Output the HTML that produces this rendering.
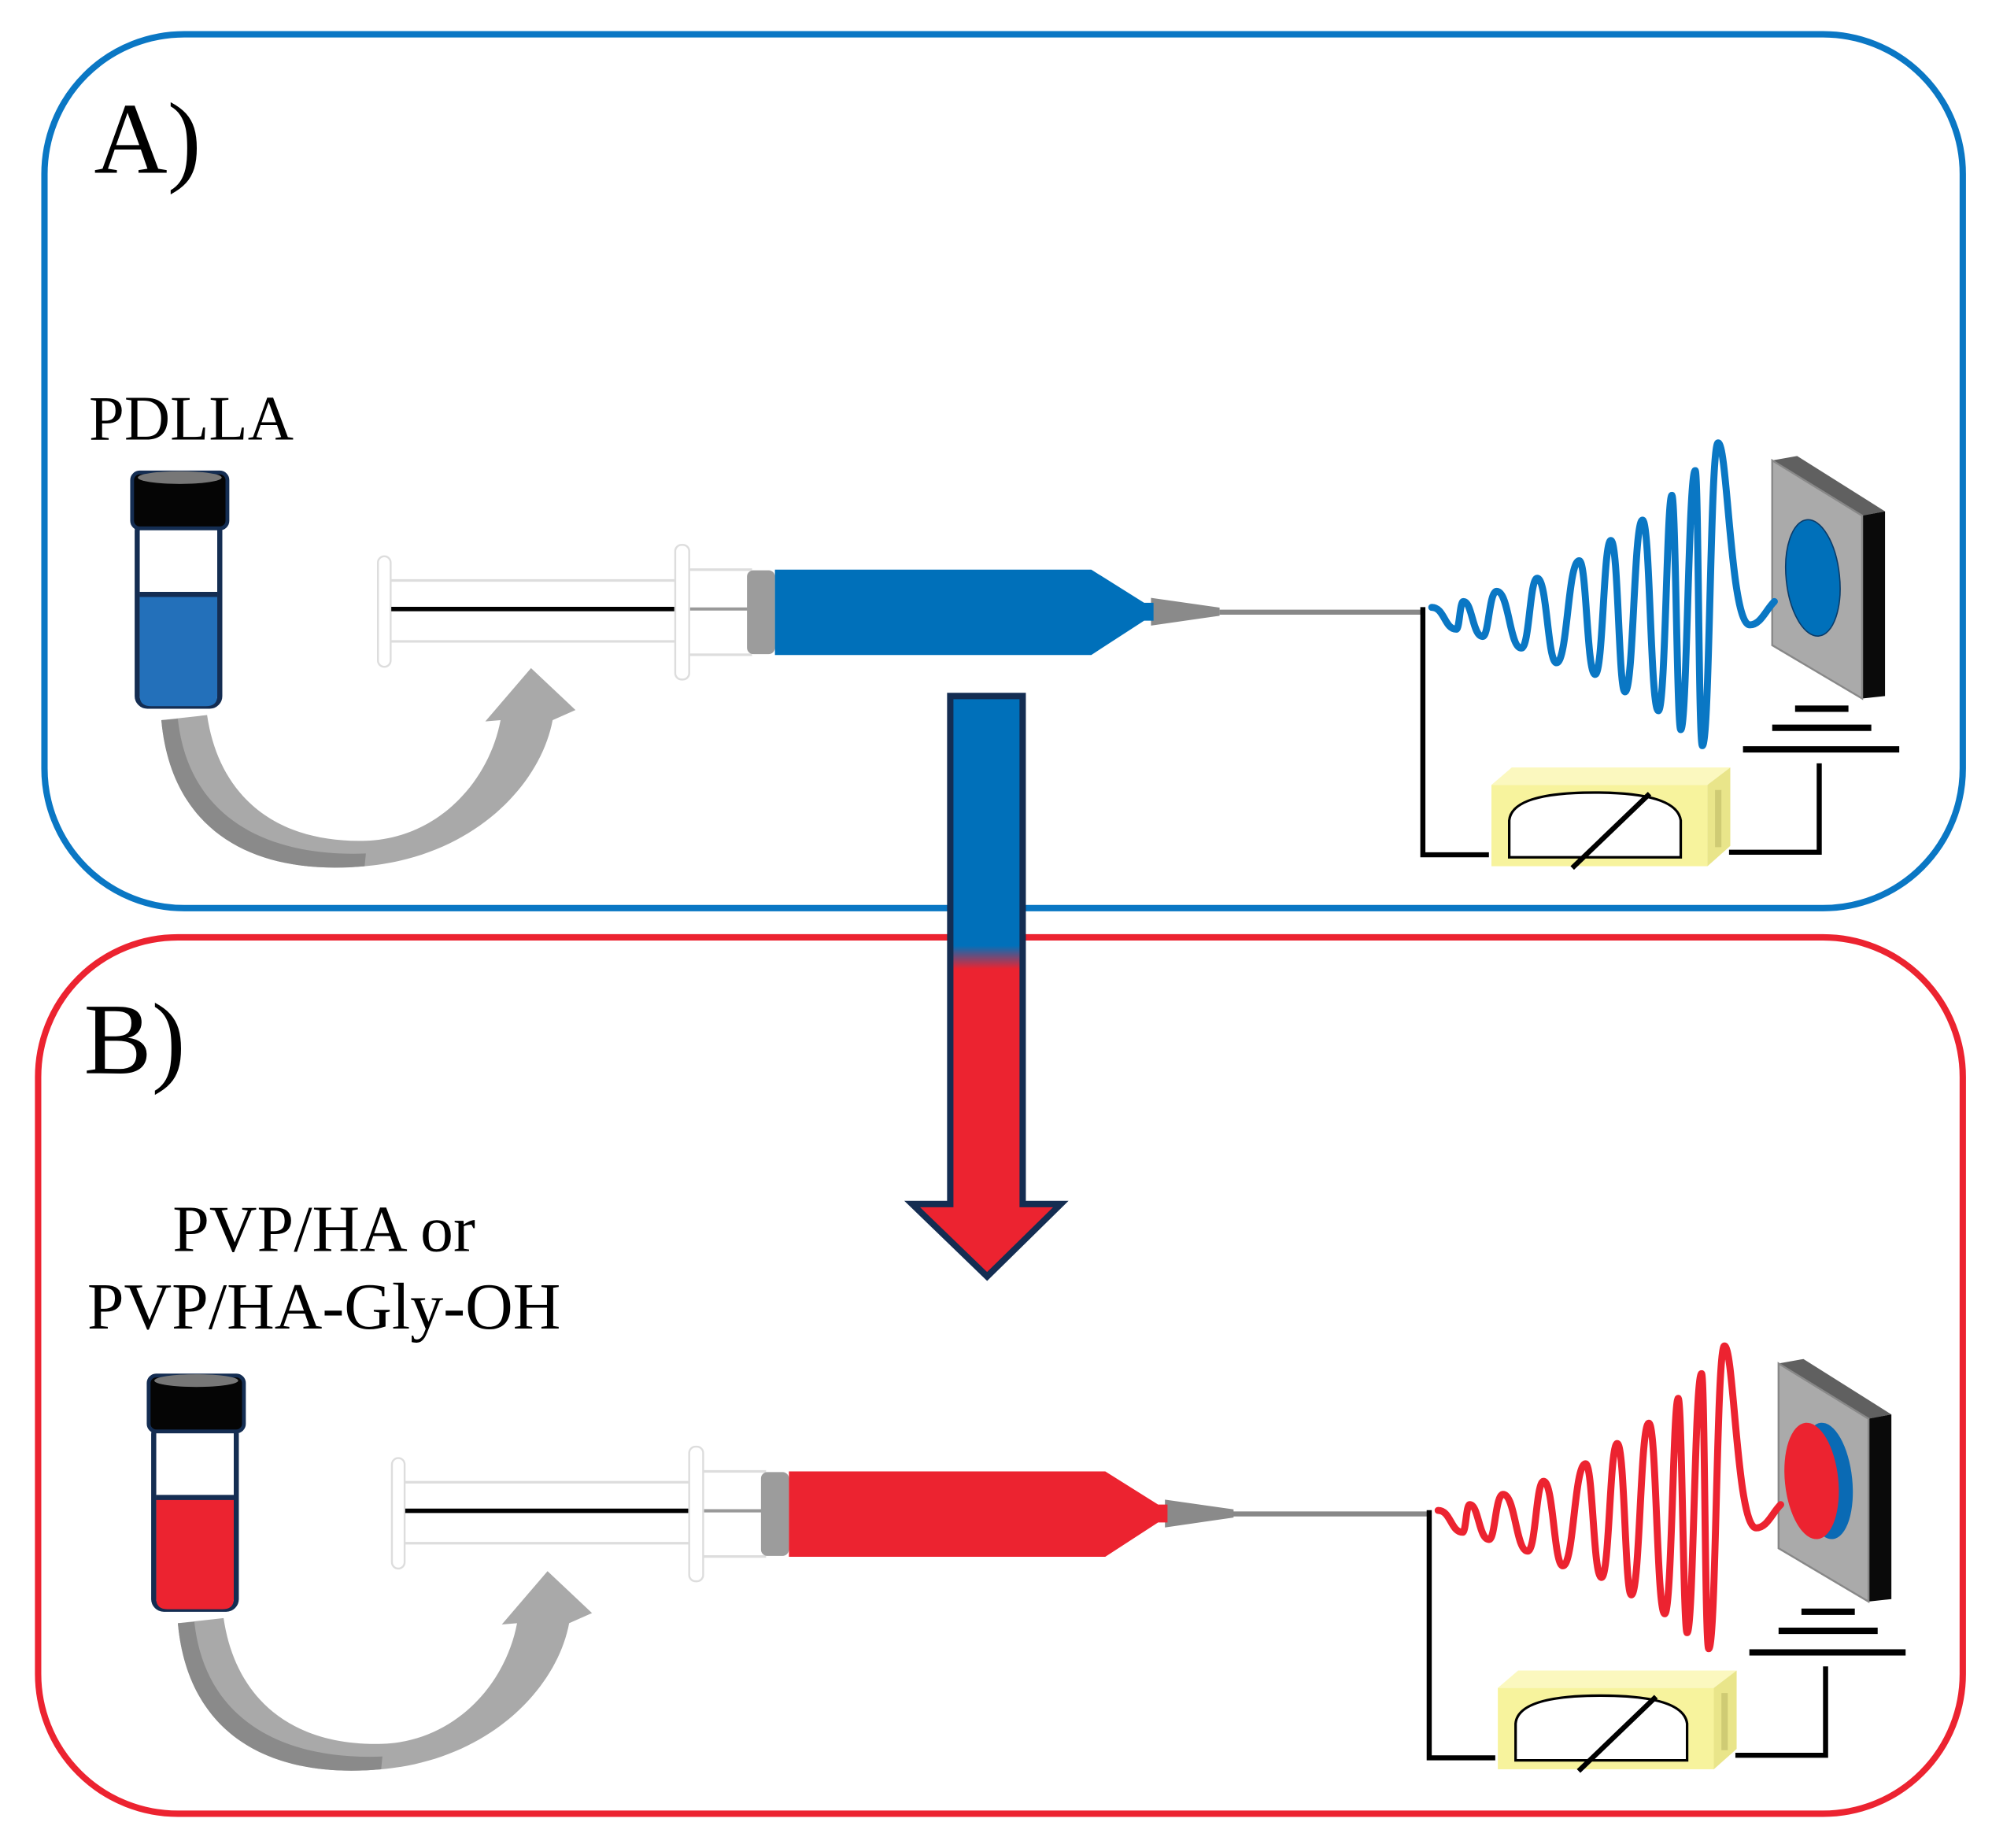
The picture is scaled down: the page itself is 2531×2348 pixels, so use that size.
<!DOCTYPE html>
<html><head><meta charset="utf-8"><style>html,body{margin:0;padding:0;background:#fff}svg{display:block}</style></head>
<body>
<svg width="2531" height="2348" viewBox="0 0 1568 1455" preserveAspectRatio="none" xmlns="http://www.w3.org/2000/svg">
<defs>
<linearGradient id="ag" x1="0" y1="548" x2="0" y2="1005" gradientUnits="userSpaceOnUse">
<stop offset="0" stop-color="#0070ba"/><stop offset="0.43" stop-color="#0070ba"/><stop offset="0.47" stop-color="#ec2330"/><stop offset="1" stop-color="#ec2330"/>
</linearGradient>
<g id="arrowc">
<path d="M127,567 C135,655 200,690 287,682 C370,675 425,620 435,567 L453,559 L418,526 L382,568 L394,567 C385,615 345,660 288,662 C215,664 172,625 163,563 Z" fill="#a9a9a9"/>
<path d="M127,567 C135,655 200,690 287,682 L288,672 C205,675 148,640 140,566 Z" fill="#8a8a8a"/>
</g>
<g id="meter">
<path d="M1174,618 L1190,604.3 L1362,604.3 L1344,618 Z" fill="#fbf8bf"/>
<path d="M1344,618 L1362,604.3 L1362,666 L1344,682 Z" fill="#e9e58a"/>
<rect x="1350" y="622" width="5" height="45" fill="#cfcb74"/>
<rect x="1174" y="618" width="170" height="64" fill="#f7f39d"/>
<path d="M1188,675 L1188,646 Q1190,624 1255,624 Q1320,624 1323,646 L1323,675 Z" fill="#fff" stroke="#000" stroke-width="2"/>
<line x1="1237.6" y1="683.4" x2="1298.5" y2="624.9" stroke="#000" stroke-width="4"/>
<polyline points="1120,478 1120,673 1172,673" fill="none" stroke="#000" stroke-width="4"/>
<polyline points="1361,671 1432,671 1432,601" fill="none" stroke="#000" stroke-width="4"/>
<line x1="1413" y1="558" x2="1455" y2="558" stroke="#000" stroke-width="5"/>
<line x1="1395" y1="573" x2="1473" y2="573" stroke="#000" stroke-width="5"/>
<line x1="1372" y1="590" x2="1495" y2="590" stroke="#000" stroke-width="5"/>
<path d="M1395,362.5 L1414.6,359 L1483.8,402.6 L1465.8,406 Z" fill="#606060"/>
<path d="M1465.8,406 L1483.8,402.6 L1483.8,548 L1465.8,550 Z" fill="#0a0a0a"/>
<path d="M1395,362.5 L1465.8,406 L1465.8,550 L1395,508 Z" fill="#aaa" stroke="#888" stroke-width="1.5"/>
</g>
<path id="wave" d="M1127,478.2 C1137,478.2 1137,495.4 1146.3,495.4 C1149,495.4 1149,473.6 1151.9,473.6 C1159,473.6 1159,501.1 1167.1,501.1 C1172,501.1 1172,465.6 1178.1,465.6 C1188,465.6 1188,510.3 1197.5,510.3 C1204,510.3 1204,455.3 1210,455.3 C1218,455.3 1218,521.8 1225.2,521.8 C1234,521.8 1234,441.5 1243.1,441.5 C1249,441.5 1249,531 1255.6,531 C1262,531 1262,425.5 1268,425.5 C1274,425.5 1274,544.7 1279.1,544.7 C1286,544.7 1286,409.5 1292.9,409.5 C1299,409.5 1299,559.6 1305.4,559.6 C1311,559.6 1312,390 1316,390 C1319,390 1320,574.5 1323,574.5 C1328,574.5 1329,370.5 1334.4,370.5 C1337,370.5 1337,587.1 1340,587.1 C1346,587.1 1346,348.7 1352.4,348.7 C1360,348.7 1362,492 1377.3,492 C1386,492 1390,480 1396.7,473.6" fill="none" stroke-width="5.5" stroke-linecap="round"/>
<g id="syrbase">
<rect x="297.5" y="438" width="10" height="87" rx="5" fill="#fff" stroke="#ddd" stroke-width="1.5"/>
<line x1="308" y1="457" x2="533" y2="457" stroke="#ddd" stroke-width="2"/>
<line x1="308" y1="505" x2="533" y2="505" stroke="#ddd" stroke-width="2"/>
<line x1="308" y1="479.5" x2="531" y2="479.5" stroke="#000" stroke-width="3.5"/>
<line x1="543" y1="479.5" x2="590" y2="479.5" stroke="#999" stroke-width="2.5"/>
<rect x="531.5" y="429" width="11" height="106" rx="5" fill="#fff" stroke="#ddd" stroke-width="1.5"/>
<line x1="543" y1="448.5" x2="592" y2="448.5" stroke="#ddd" stroke-width="2"/>
<line x1="543" y1="515.5" x2="592" y2="515.5" stroke="#ddd" stroke-width="2"/>
<rect x="588" y="449" width="22" height="66" rx="5" fill="#9c9c9c"/>
<path d="M906,470.7 L960,478.4 L960,484.8 L906,492.6 Z" fill="#8a8a8a"/>
</g>
<g id="vialbase">
<rect x="108" y="410" width="65" height="146" rx="8" fill="#fff" stroke="#142d52" stroke-width="4"/>
</g>
</defs>

<rect x="35" y="27" width="1510" height="688" rx="110" fill="none" stroke="#0a77c4" stroke-width="5"/>
<rect x="30" y="738" width="1515" height="690" rx="110" fill="none" stroke="#ec2330" stroke-width="5"/>

<text x="74" y="136" font-family="Liberation Serif, serif" font-size="80" fill="#000">A)</text>
<text x="66" y="845" font-family="Liberation Serif, serif" font-size="80" fill="#000">B)</text>
<text x="70" y="346" font-family="Liberation Serif, serif" font-size="50" fill="#000">PDLLA</text>
<text x="255" y="985" text-anchor="middle" font-family="Liberation Serif, serif" font-size="52" fill="#000">PVP/HA or</text>
<text x="255" y="1046" text-anchor="middle" font-family="Liberation Serif, serif" font-size="52" fill="#000">PVP/HA-Gly-OH</text>

<!-- A -->
<g>
<use href="#vialbase"/>
<path d="M110,468 L171,468 L171,548 Q171,556 162,556 L119,556 Q110,556 110,548 Z" fill="#2370ba"/>
<line x1="110" y1="468" x2="171" y2="468" stroke="#142d52" stroke-width="4"/>
<rect x="104" y="372" width="75" height="44" rx="6" fill="#050505" stroke="#142d52" stroke-width="3"/>
<ellipse cx="141.5" cy="376" rx="33" ry="5" fill="#777"/>
</g>
<use href="#arrowc"/>
<use href="#syrbase"/>
<path d="M610,448.5 L859,448.5 L900.6,474.6 L908,474.6 L908,488.7 L900.6,488.7 L859,515.7 L610,515.7 Z" fill="#0070ba"/>
<line x1="960" y1="482" x2="1120" y2="482" stroke="#888" stroke-width="4"/>
<use href="#meter"/>
<ellipse cx="1427" cy="455" rx="21" ry="46" transform="rotate(-6 1427 455)" fill="#0070ba" stroke="#0a3c6a" stroke-width="1"/>
<use href="#wave" stroke="#0a77c4"/>

<!-- B -->
<g transform="translate(13,711)">
<use href="#vialbase"/>
<path d="M110,468 L171,468 L171,548 Q171,556 162,556 L119,556 Q110,556 110,548 Z" fill="#ec2330"/>
<line x1="110" y1="468" x2="171" y2="468" stroke="#142d52" stroke-width="4"/>
<rect x="104" y="372" width="75" height="44" rx="6" fill="#050505" stroke="#142d52" stroke-width="3"/>
<ellipse cx="141.5" cy="376" rx="33" ry="5" fill="#777"/>
<use href="#arrowc"/>
</g>
<g transform="translate(11,710)">
<use href="#syrbase"/>
<path d="M610,448.5 L859,448.5 L900.6,474.6 L908,474.6 L908,488.7 L900.6,488.7 L859,515.7 L610,515.7 Z" fill="#ec2330"/>
</g>
<line x1="970" y1="1192" x2="1125" y2="1192" stroke="#888" stroke-width="4"/>
<g transform="translate(5,711)">
<use href="#meter"/>
<ellipse cx="1433" cy="455" rx="20" ry="46" transform="rotate(-6 1433 455)" fill="#0a6ab4"/>
<ellipse cx="1421" cy="455" rx="21" ry="46" transform="rotate(-6 1421 455)" fill="#ec2330"/>
<use href="#wave" stroke="#ec2330"/>
</g>

<path d="M748,548 L805,548 L805,948 L835,948 L777,1005 L718,948 L748,948 Z" fill="url(#ag)" stroke="#142d52" stroke-width="5" stroke-linejoin="miter"/>
</svg>
</body></html>
